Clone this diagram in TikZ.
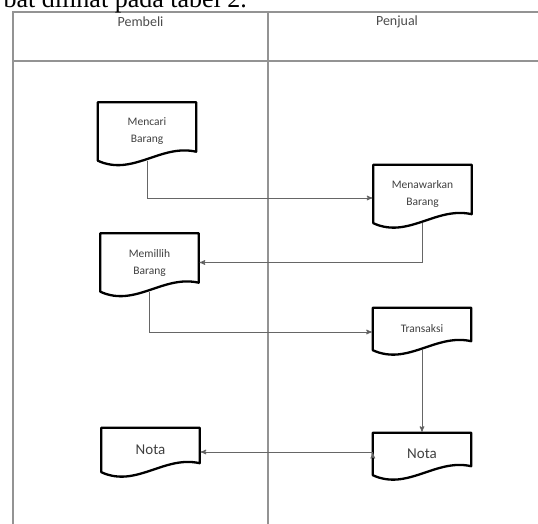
\documentclass[tikz,border=0pt]{standalone}
\usepackage{fontspec}
\setmainfont{Carlito}
\newfontfamily\captionserif{Liberation Serif}
\usepackage{xcolor}
\usepackage{tikz}
\usetikzlibrary{arrows}
\usetikzlibrary{positioning}

\begin{document}
\begin{tikzpicture}[->,>=stealth',shorten >=1pt,x=1pt,y=-1pt,
  lane line/.style={-,shorten >=0pt,draw=gray!85,line width=1.3pt},
  lane head/.style={font=\fontsize{14}{16}\selectfont,text=black!70},
  doc node/.style={rectangle,minimum width=98,minimum height=58,inner sep=0pt,
    align=center,font=\fontsize{11.5}{17}\selectfont,text=black!75},
  doc line/.style={-,shorten >=0pt,draw=black,line width=2.3pt,line join=round},
  flow/.style={draw=black!60,line width=1pt},
  elbow/.style={to path={|- (\tikztotarget) \tikztonodes}}]

  \useasboundingbox (0,0) rectangle (538,524);

  % swimlanes
  \draw[lane line] (13,530) -- (13,12) -- (545,12);
  \draw[lane line] (13,61) -- (545,61);
  \draw[lane line] (268,12) -- (268,530);
  \node[lane head] (pembeli) at (140.5,22) {Pembeli};
  \node[lane head] (penjual) at (397,22) {Penjual};
  \node[anchor=base west,font=\captionserif\fontsize{26}{30}\selectfont] (caption) at (0,8) {bat dilihat pada tabel 2.};

  \node[doc node] (1) at (147,131.5) {Mencari\\Barang};
  \node[doc node] (2) at (422.5,194) {Menawarkan\\Barang};
  \node[doc node] (3) at (149.5,262.5) {Memillih\\Barang};
  \node[doc node,minimum height=42] (4) at (422,329) {Transaksi};
  \node[doc node,minimum height=42,font=\fontsize{15}{17}\selectfont] (5) at (422,454) {Nota};
  \node[doc node,minimum height=44,font=\fontsize{15}{17}\selectfont] (6) at (150.5,450) {Nota};

  \foreach \n in {1,...,6}
    \draw[doc line] ([yshift=9pt]\n.south east)
      .. controls ([xshift=-36pt,yshift=17pt]\n.south east) and ([xshift=35pt,yshift=-16pt]\n.south west) ..
      (\n.south west) -- (\n.north west) -- (\n.north east) -- cycle;

  \path[flow]
    (1.south) edge[elbow] ([yshift=-4pt]2.west)
    (2.south) edge[elbow] (3.east)
    (3.south) edge[elbow] ([yshift=-3pt]4.west)
    (4.south) edge (5.north)
    ([yshift=2pt]5.west) edge ([yshift=-2pt]6.east);
\end{tikzpicture}
\end{document}
